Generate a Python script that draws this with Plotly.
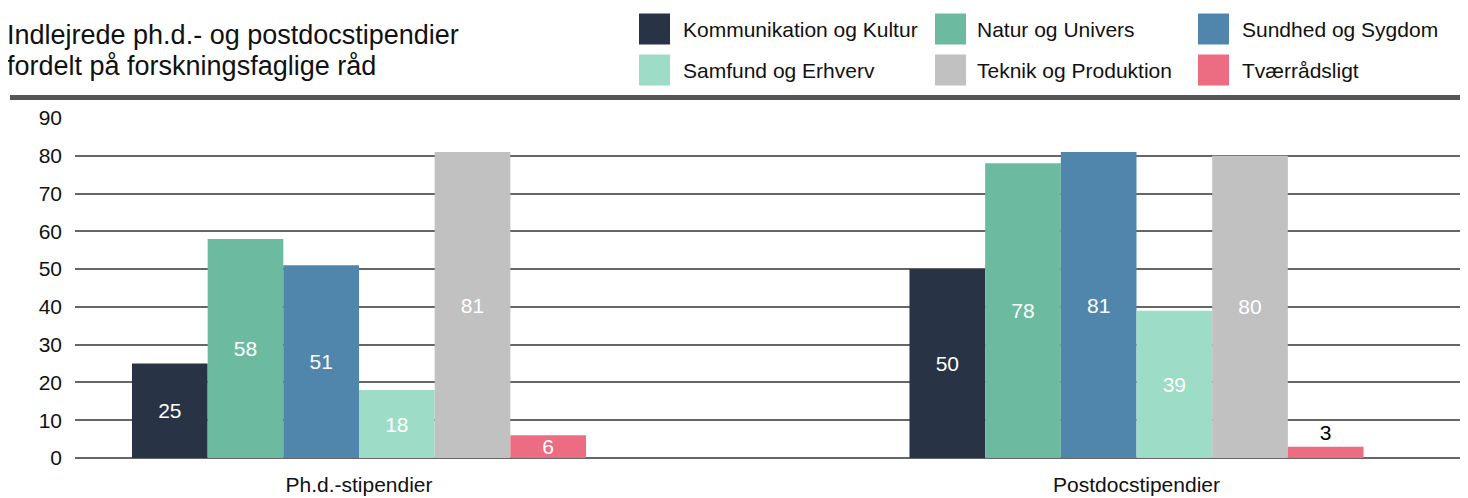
import plotly.graph_objects as go

# ---------------- data ----------------
categories = ["Ph.d.-stipendier", "Postdocstipendier"]
series_names = [
    "Kommunikation og Kultur",
    "Natur og Univers",
    "Sundhed og Sygdom",
    "Samfund og Erhverv",
    "Teknik og Produktion",
    "Tværrådsligt",
]
kommunikation_og_kultur = [25, 50]
natur_og_univers = [58, 78]
sundhed_og_sygdom = [51, 81]
samfund_og_erhverv = [18, 39]
teknik_og_produktion = [81, 80]
tvaerraadsligt = [6, 3]
y_tick_values = [0, 10, 20, 30, 40, 50, 60, 70, 80, 90]
title_lines = ["Indlejrede ph.d.- og postdocstipendier", "fordelt på forskningsfaglige råd"]

series_values = [
    kommunikation_og_kultur,
    natur_og_univers,
    sundhed_og_sygdom,
    samfund_og_erhverv,
    teknik_og_produktion,
    tvaerraadsligt,
]
colors = ["#283445", "#6cbba1", "#5086ac", "#9ddcc6", "#c1c1c1", "#ec6d82"]

# ---------------- layout geometry (viewport pixels, page has 8px body margin) ----------------
OFF = 8
VW, VH = 1468, 498
W, H = VW - OFF, VH - OFF
# plot area in viewport coords
PL, PR, PT, PB = 75, 1466, 118, 458
ML, MR, MT, MB = PL - OFF, VW - PR, PT - OFF, VH - PB
PW, PH = PR - PL, PB - PT
FONT = "Liberation Sans, Arial, Helvetica, sans-serif"


def px_x(px):
    return (px - PL) / PW


def px_y(py):
    return (PB - py) / PH


fig = go.Figure()
for name, vals, col in zip(series_names, series_values, colors):
    fig.add_trace(
        go.Bar(
            name=name,
            x=categories,
            y=vals,
            marker=dict(color=col, line=dict(width=0)),
            text=[str(v) for v in vals],
            textposition=["outside" if v < 5 else "inside" for v in vals],
            insidetextanchor="middle",
            textangle=0,
            insidetextfont=dict(color="white", size=21, family=FONT),
            outsidetextfont=dict(color="black", size=21, family=FONT),
            cliponaxis=False,
            showlegend=False,
            hoverinfo="x+y+name",
        )
    )

# category centres at viewport px 359 and 1136.5
c0, c1 = 359.0, 1136.5
unit = c1 - c0
x_range = [(PL - c0) / unit, (PR - c0) / unit]

shapes = []
annotations = []

# thick rule under header
shapes.append(dict(type="line", xref="paper", yref="paper",
                   x0=px_x(10), x1=px_x(1470), y0=px_y(97.5), y1=px_y(97.5),
                   line=dict(color="#555555", width=5)))

# title
for line, cy in zip(title_lines, [35, 66]):
    annotations.append(dict(text=line, xref="paper", yref="paper",
                            x=px_x(6), y=px_y(cy), xanchor="left", yanchor="middle",
                            borderpad=0, showarrow=False,
                            font=dict(size=27, color="#111111", family=FONT)))

# custom legend (3 columns x 2 rows)
swatch_x = [639, 935, 1198]
text_x = [681, 975, 1240]
row_y = [29, 70]
for i, (name, col) in enumerate(zip(series_names, colors)):
    r, c = divmod(i, 3)
    cy = row_y[r]
    shapes.append(dict(type="rect", xref="paper", yref="paper",
                       x0=px_x(swatch_x[c]), x1=px_x(swatch_x[c] + 31),
                       y0=px_y(cy - 15.5), y1=px_y(cy + 15.5),
                       fillcolor=col, line=dict(width=0)))
    annotations.append(dict(text=name, xref="paper", yref="paper",
                            x=px_x(text_x[c]), y=px_y(cy), xanchor="left", yanchor="middle",
                            showarrow=False, font=dict(size=21, color="#111111", family=FONT)))

fig.update_layout(
    width=W, height=H,
    margin=dict(l=ML, r=MR, t=MT, b=MB, pad=0),
    paper_bgcolor="white", plot_bgcolor="white",
    barmode="group", bargap=0.416, bargroupgap=0,
    font=dict(family=FONT, color="#111111", size=21),
    shapes=shapes, annotations=annotations,
    uniformtext=dict(minsize=21, mode="show"),
    xaxis=dict(type="category", range=x_range, showgrid=False, zeroline=False,
               showline=False, ticks="", tickfont=dict(size=21, color="#111111"),
               ticklabelstandoff=12),
    yaxis=dict(range=[0, 90], tickvals=y_tick_values, showgrid=True,
               gridcolor="#666666", gridwidth=1.5, zeroline=True, zerolinecolor="#666666",
               zerolinewidth=1.5, showline=False, ticks="",
               tickfont=dict(size=21, color="#111111"), ticklabelstandoff=12),
)

fig.write_html("out.html")
